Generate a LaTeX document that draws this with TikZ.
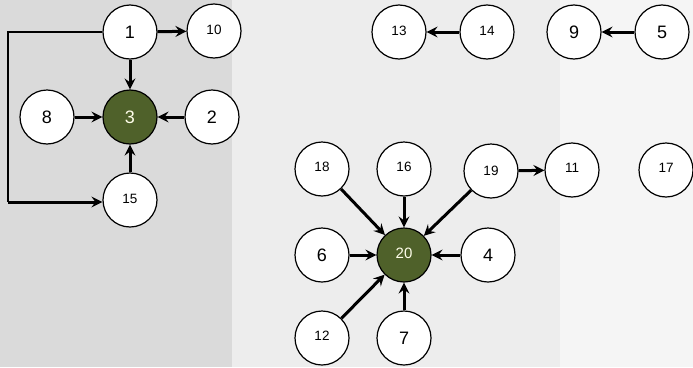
\documentclass[tikz,border=0pt]{standalone}
\usepackage{fontspec}
\setmainfont{Liberation Sans}
\usetikzlibrary{arrows.meta}
\definecolor{olive}{HTML}{4F612A}
\definecolor{bgleft}{HTML}{DADADA}
\definecolor{bgmid}{HTML}{EDEDED}
\definecolor{bgright}{HTML}{F5F5F5}
\tikzset{
  vtx/.style={circle, draw=black, line width=1.2pt, fill=white, minimum size=54pt, inner sep=0pt},
  hub/.style={vtx, fill=olive, text=white!92!yellow},
  big/.style={font=\fontsize{18}{18}\selectfont},
  small/.style={font=\fontsize{13.5}{13.5}\selectfont},
  mid/.style={font=\fontsize{15}{15}\selectfont},
  edge/.style={line width=3pt, -{Stealth[length=11pt,width=11pt,inset=4pt]}},
  plain/.style={line width=2pt}
}
\begin{document}
\begin{tikzpicture}[x=1pt,y=-1pt]
\useasboundingbox (0,0) rectangle (693,367);
% background
\fill[bgmid] (0,0) rectangle (693,367);
\fill[bgright] (560,0) rectangle (693,367);
\fill[bgleft] (0,0) rectangle (232,367);
% left group
\node[vtx,big] (n1) at (130,32) {1};
\node[vtx,small] (n10) at (214,31) {\raisebox{3pt}{10}};
\node[hub,big] (n3) at (130,117) {3};
\node[vtx,big] (n8) at (47,117) {8};
\node[vtx,big] (n2) at (212,117) {2};
\node[vtx,small] (n15) at (130,200) {\raisebox{2pt}{15}};
\coordinate (c1) at (8,32);
\coordinate (c2) at (8,202);
\draw[edge] (n1) -- (n10);
\draw[edge] (n1) -- (n3);
\draw[edge] (n8) -- (n3);
\draw[edge] (n2) -- (n3);
\draw[edge] (n15) -- (n3);
\draw[plain] (n1.west) -- (c1) -- (c2);
\draw[edge] (c2) -- (n15.west |- c2);
% top right
\node[vtx,small] (n13) at (399,32) {\raisebox{3pt}{13}};
\node[vtx,small] (n14) at (487,32) {\raisebox{3pt}{14}};
\node[vtx,big] (n9) at (574,32) {9};
\node[vtx,big] (n5) at (662,32) {5};
\draw[edge] (n14) -- (n13);
\draw[edge] (n5) -- (n9);
% right group
\node[vtx,small] (n18) at (322,169) {\raisebox{4pt}{18}};
\node[vtx,small] (n16) at (404,169) {\raisebox{4pt}{16}};
\node[vtx,small] (n19) at (491,171) {\raisebox{-4pt}{19}};
\node[vtx,small] (n11) at (572,170) {\raisebox{4pt}{11}};
\node[vtx,small] (n17) at (666,170) {\raisebox{4pt}{17}};
\node[hub,mid] (n20) at (404,255) {\raisebox{3pt}{20}};
\node[vtx,big] (n6) at (322,255) {6};
\node[vtx,big] (n4) at (488,255) {4};
\node[vtx,small] (n12) at (322,338) {\raisebox{4pt}{12}};
\node[vtx,big] (n7) at (404,338) {7};
\draw[edge] (n18) -- (n20);
\draw[edge] (n16) -- (n20);
\draw[edge] (n19) -- (n20);
\draw[edge] (n6) -- (n20);
\draw[edge] (n4) -- (n20);
\draw[edge] (n12) -- (n20);
\draw[edge] (n7) -- (n20);
\draw[edge] (n19) -- (n11);
\end{tikzpicture}
\end{document}
